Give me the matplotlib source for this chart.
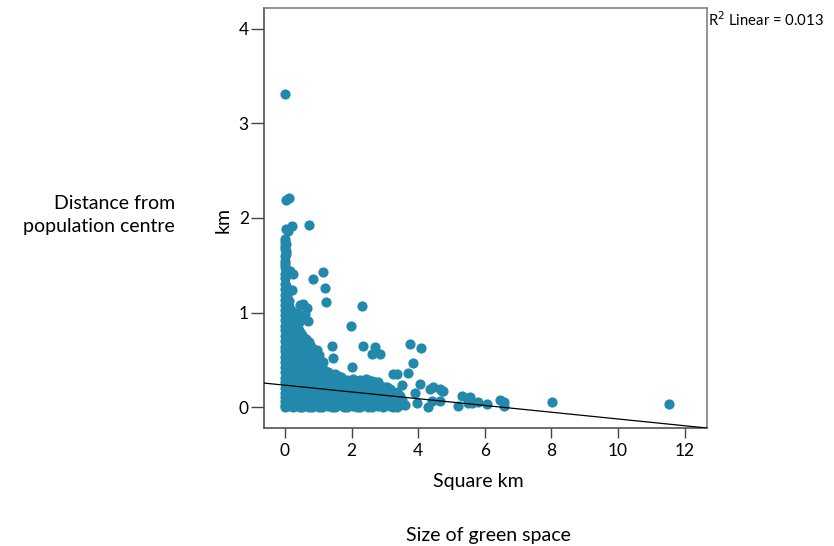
import matplotlib
matplotlib.use("Agg")
import matplotlib.pyplot as plt

W, H = 834, 546
point_color = "#2389ac"

x_ticks = [0, 2, 4, 6, 8, 10, 12]
y_ticks = [0, 1, 2, 3, 4]
fit_x = [-0.645, 12.67]
fit_y = [0.254, -0.222]

# Isolated points
outlier_x = [0.0, 0.02, 0.12, 0.2, 0.03, 0.08, 0.72, 0.0, 0.0, 0.02, 0.0, 0.0, 0.15, 0.25, 0.85, 1.15, 1.2, 1.22,
             2.3, 1.97, 1.4, 2.35, 2.71, 2.6, 2.85, 3.76, 4.08, 3.84, 3.68, 3.25, 3.35, 1.44, 1.14, 2.02,
             0.45, 0.55, 0.6, 0.35, 0.65, 0.7, 0.5, 0.75, 0.62, 0.42, 0.22,
             4.06, 4.35, 4.45, 4.65, 4.74, 5.31, 4.3, 5.18, 5.5, 5.5, 4.4, 4.65, 3.95, 3.9, 3.52, 3.15,
             5.55, 5.6, 5.8, 6.06, 6.45, 6.58, 6.59, 8.03, 11.53, 4.7, 3.5, 3.6, 3.3, 3.0, 3.05,
             0.0, 0.0, 0.03, 0.0, 0.03, 0.0, 0.04, 0.0, 0.02, 0.0]
outlier_y = [3.31, 2.19, 2.21, 1.92, 1.88, 1.86, 1.93, 1.75, 1.7, 1.65, 1.55, 1.48, 1.44, 1.41, 1.35, 1.43, 1.26, 1.11,
             1.07, 0.86, 0.65, 0.645, 0.64, 0.557, 0.557, 0.663, 0.62, 0.47, 0.36, 0.345, 0.345, 0.52, 0.475, 0.42,
             1.08, 1.09, 0.98, 1.0, 1.05, 0.91, 0.93, 0.66, 0.72, 0.9, 1.24,
             0.24, 0.187, 0.215, 0.187, 0.173, 0.12, 0.003, 0.01, 0.095, 0.04, 0.067, 0.067, 0.04, 0.145, 0.233, 0.19,
             0.11, 0.04, 0.056, 0.03, 0.074, 0.056, 0.01, 0.05, 0.03, 0.17, 0.07, 0.02, 0.1, 0.21, 0.14,
             1.36, 1.41, 1.45, 1.51, 1.62, 1.67, 1.72, 1.78, 1.28, 1.6]

# Dense mass near the origin: one list of distances per size value
column_x = [0.0, 0.06, 0.12, 0.18, 0.25, 0.31, 0.38, 0.44, 0.5, 0.57, 0.65, 0.72, 0.8, 0.87, 0.95, 1.03, 1.12, 1.2, 1.3, 1.4, 1.5, 1.6,
            1.68, 1.77, 1.85, 1.95, 2.05, 2.15, 2.25, 2.33, 2.42, 2.5, 2.6, 2.7, 2.78, 2.86, 2.95, 3.05, 3.15, 3.25, 3.35, 3.45]
column_y = [
    [0.0, 0.02, 0.06, 0.11, 0.15, 0.2, 0.26, 0.31, 0.37, 0.42, 0.48, 0.53, 0.59, 0.64, 0.7, 0.75, 0.81, 0.86, 0.92, 0.97, 1.03, 1.08, 1.13, 1.19, 1.25, 1.3],
    [0.03, 0.08, 0.13, 0.18, 0.24, 0.29, 0.35, 0.4, 0.45, 0.51, 0.56, 0.62, 0.67, 0.73, 0.78, 0.84, 0.89, 0.94, 1.0, 1.05, 1.1, 1.16, 1.2],
    [0.01, 0.05, 0.1, 0.16, 0.22, 0.27, 0.33, 0.39, 0.44, 0.5, 0.55, 0.61, 0.66, 0.72, 0.78, 0.83, 0.89, 0.95, 1.0, 1.06, 1.12],
    [0.02, 0.07, 0.12, 0.19, 0.24, 0.3, 0.36, 0.41, 0.47, 0.52, 0.58, 0.64, 0.69, 0.75, 0.81, 0.86, 0.92, 0.97, 1.03],
    [0.0, 0.04, 0.09, 0.14, 0.2, 0.26, 0.32, 0.38, 0.43, 0.49, 0.56, 0.62, 0.68, 0.73, 0.8, 0.86, 0.94],
    [0.01, 0.06, 0.11, 0.17, 0.23, 0.28, 0.35, 0.4, 0.46, 0.52, 0.59, 0.65, 0.7, 0.76, 0.83, 0.88],
    [0.02, 0.06, 0.12, 0.18, 0.24, 0.3, 0.36, 0.41, 0.47, 0.54, 0.6, 0.66, 0.72, 0.84],
    [0.0, 0.07, 0.13, 0.19, 0.25, 0.31, 0.37, 0.43, 0.49, 0.55, 0.62, 0.68, 0.74, 0.79],
    [0.0, 0.05, 0.1, 0.16, 0.21, 0.28, 0.34, 0.4, 0.46, 0.52, 0.58, 0.64, 0.7, 0.76],
    [0.02, 0.08, 0.14, 0.2, 0.26, 0.32, 0.38, 0.44, 0.5, 0.56, 0.62, 0.68, 0.73],
    [0.01, 0.06, 0.11, 0.17, 0.23, 0.29, 0.35, 0.41, 0.47, 0.53, 0.6, 0.67],
    [0.0, 0.08, 0.14, 0.2, 0.26, 0.32, 0.38, 0.44, 0.5, 0.57, 0.63, 0.69],
    [0.0, 0.05, 0.12, 0.18, 0.24, 0.3, 0.36, 0.43, 0.49, 0.56, 0.62],
    [0.02, 0.09, 0.15, 0.21, 0.27, 0.33, 0.39, 0.46, 0.52, 0.6],
    [0.02, 0.07, 0.13, 0.19, 0.25, 0.31, 0.37, 0.44, 0.52, 0.6],
    [0.0, 0.1, 0.16, 0.22, 0.28, 0.34, 0.4, 0.47, 0.55],
    [0.0, 0.06, 0.12, 0.18, 0.24, 0.3, 0.36, 0.42],
    [0.02, 0.09, 0.15, 0.21, 0.27, 0.33, 0.38],
    [0.01, 0.07, 0.13, 0.19, 0.25, 0.31, 0.37],
    [0.0, 0.1, 0.16, 0.22, 0.28, 0.34],
    [0.0, 0.06, 0.12, 0.18, 0.24, 0.3, 0.35],
    [0.02, 0.09, 0.15, 0.21, 0.27, 0.33],
    [0.02, 0.07, 0.13, 0.19, 0.25, 0.32],
    [0.0, 0.1, 0.16, 0.22, 0.28],
    [0.0, 0.06, 0.12, 0.18, 0.24, 0.29],
    [0.02, 0.09, 0.15, 0.21, 0.27],
    [0.01, 0.07, 0.13, 0.19, 0.25, 0.3],
    [0.0, 0.1, 0.16, 0.22, 0.28],
    [0.0, 0.05, 0.11, 0.17, 0.23, 0.29],
    [0.03, 0.08, 0.14, 0.2, 0.26],
    [0.02, 0.08, 0.14, 0.2, 0.26, 0.3],
    [0.0, 0.11, 0.17, 0.23, 0.29],
    [0.0, 0.06, 0.12, 0.18, 0.24, 0.28],
    [0.03, 0.09, 0.15, 0.21, 0.26],
    [0.01, 0.07, 0.13, 0.19, 0.27],
    [0.1, 0.16, 0.22],
    [0.0, 0.08, 0.14, 0.18],
    [0.03, 0.11, 0.16, 0.21],
    [0.01, 0.06, 0.12, 0.17],
    [0.0, 0.09, 0.14],
    [0.0, 0.05, 0.11, 0.16],
    [0.02, 0.12],
]

dense_x = [x for x, ys in zip(column_x, column_y) for _ in ys]
dense_y = [y for ys in column_y for y in ys]

plt.rcParams["font.family"] = ["Lato", "DejaVu Sans"]
fig = plt.figure(figsize=(W / 100, H / 100), dpi=100)
ax = fig.add_axes([263.5 / W, 1 - 428 / H, (707 - 263.5) / W, (428 - 8) / H])

ax.scatter(dense_x, dense_y, s=54, color=point_color, linewidths=0, zorder=2)
ax.scatter(outlier_x, outlier_y, s=54, color=point_color, linewidths=0, zorder=2)
ax.plot(fit_x, fit_y, color="black", lw=0.9, zorder=3)

ax.set_xlim(-0.645, 12.67)
ax.set_ylim(-0.222, 4.222)
ax.set_xticks(x_ticks)
ax.set_yticks(y_ticks)
ax.tick_params(axis="x", length=7.5, width=1, color="#444444", labelsize=12.5, pad=3)
ax.tick_params(axis="y", length=9.5, width=1, color="#444444", labelsize=12.5, pad=1)
for name, spine in ax.spines.items():
    spine.set_linewidth(1.1)
    spine.set_color("#777777" if name in ("right", "top") else "#444444")

fig.text(175 / W, 1 - 215 / H, "Distance from\npopulation centre", ha="right", va="center",
         fontsize=14, linespacing=1.45)
fig.text(223 / W, 1 - 220 / H, "km", rotation=90, ha="center", va="center", fontsize=14)
fig.text(478 / W, 1 - 482 / H, "Square km", ha="center", va="center", fontsize=14)
fig.text(488.5 / W, 1 - 535 / H, "Size of green space", ha="center", va="center", fontsize=14)
fig.text(708 / W, 1 - 20 / H, "R$^2$ Linear = 0.013", ha="left", va="center", fontsize=10.7,
         math_fontfamily="dejavusans")

fig.savefig("out.png", dpi=100)
